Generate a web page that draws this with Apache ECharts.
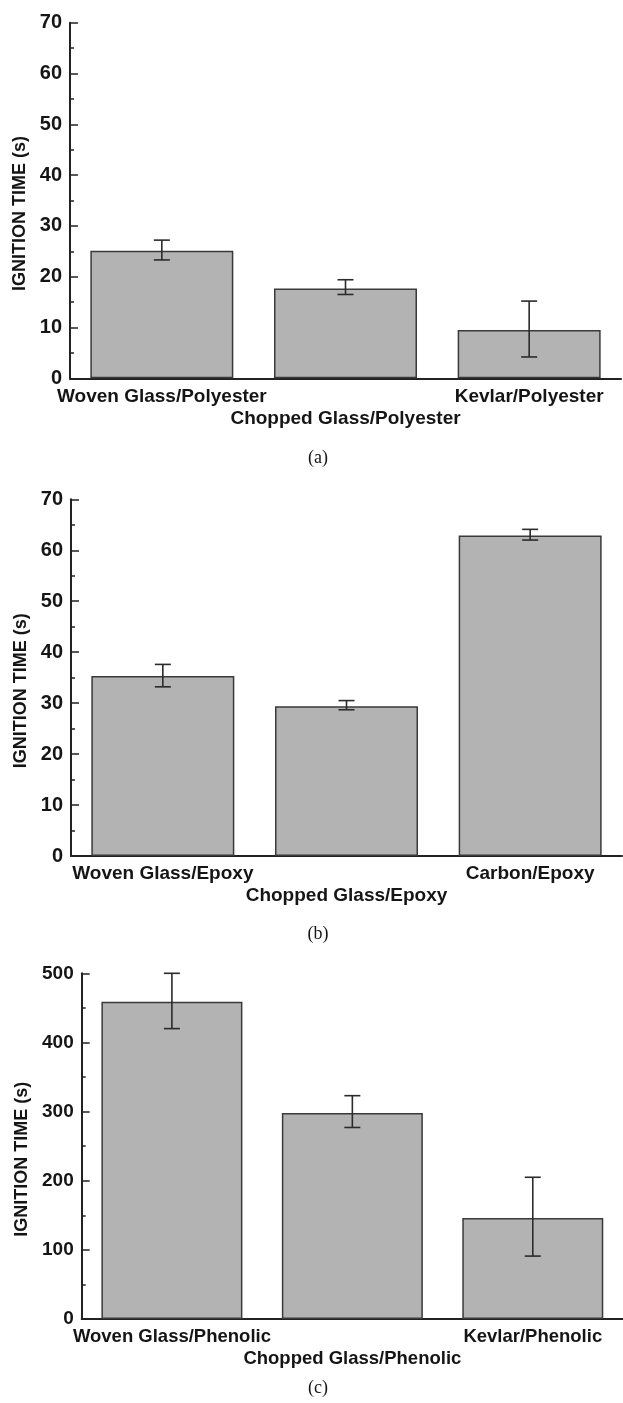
<!DOCTYPE html>
<html>
<head>
<meta charset="utf-8">
<title>Ignition time of composites</title>
<script src="https://cdn.jsdelivr.net/npm/echarts@6/dist/echarts.min.js"></script>
<style>
  html, body { margin: 0; padding: 0; background: #fff; }
  #chart { width: 623px; height: 1403px; }
</style>
</head>
<body>
<div id="chart"></div>
<script>
// Panel (a): polyester matrix composites
const catsA = ['Woven Glass/Polyester', 'Chopped Glass/Polyester', 'Kevlar/Polyester'];
const timeA = [25.1, 17.7, 9.5];
const lowA = [23.3, 16.5, 4.2];
const highA = [27.2, 19.4, 15.2];

// Panel (b): epoxy matrix composites
const catsB = ['Woven Glass/Epoxy', 'Chopped Glass/Epoxy', 'Carbon/Epoxy'];
const timeB = [35.3, 29.4, 62.9];
const lowB = [33.2, 28.7, 62.0];
const highB = [37.6, 30.5, 64.1];

// Panel (c): phenolic matrix composites
const catsC = ['Woven Glass/Phenolic', 'Chopped Glass/Phenolic', 'Kevlar/Phenolic'];
const timeC = [459, 298, 146];
const lowC = [420, 277, 91];
const highC = [500, 323, 205];

const yMaxA = 70, yStepA = 10;
const yMaxB = 70, yStepB = 10;
const yMaxC = 500, yStepC = 100;

const axisName = 'IGNITION TIME (s)';
const captions = ['(a)', '(b)', '(c)'];

const SANS = '"Liberation Sans", Arial, Helvetica, sans-serif';
const SERIF = '"Liberation Serif", "Times New Roman", serif';
const INK = '#151515';

const panels = [
  { cats: catsA, time: timeA, low: lowA, high: highA, max: yMaxA, step: yStepA,
    grid: { left: 70, top: 22.7, width: 551, height: 355.6 }, barWidth: 143,
    tickFont: 20, catFont: 19, nameGap: 40, capY: 458 },
  { cats: catsB, time: timeB, low: lowB, high: highB, max: yMaxB, step: yStepB,
    grid: { left: 71, top: 499.3, width: 551, height: 356.7 }, barWidth: 143,
    tickFont: 20, catFont: 19, nameGap: 41, capY: 934 },
  { cats: catsC, time: timeC, low: lowC, high: highC, max: yMaxC, step: yStepC,
    grid: { left: 81.7, top: 973.3, width: 541.3, height: 345.7 }, barWidth: 141,
    tickFont: 19, catFont: 18.5, nameGap: 50, capY: 1388 }
];

// Whisker with caps from the low to the high value of each category
function errorBarItem(params, api) {
  const x = api.value(0);
  const lo = api.coord([x, api.value(1)]);
  const hi = api.coord([x, api.value(2)]);
  const half = 8;
  const style = { stroke: '#2b2b2b', lineWidth: 1.6 };
  return {
    type: 'group',
    children: [
      { type: 'line', shape: { x1: hi[0], y1: hi[1], x2: lo[0], y2: lo[1] }, style },
      { type: 'line', shape: { x1: hi[0] - half, y1: hi[1], x2: hi[0] + half, y2: hi[1] }, style },
      { type: 'line', shape: { x1: lo[0] - half, y1: lo[1], x2: lo[0] + half, y2: lo[1] }, style }
    ]
  };
}

const option = {
  animation: false,
  backgroundColor: '#fff',
  grid: [], xAxis: [], yAxis: [], series: [],
  graphic: []
};

panels.forEach((p, k) => {
  option.grid.push(Object.assign({ containLabel: false }, p.grid));
  option.xAxis.push({
    type: 'category',
    gridIndex: k,
    data: p.cats,
    axisTick: { show: false },
    axisLine: { lineStyle: { color: '#222', width: 2 } },
    axisLabel: {
      interval: 0,
      hideOverlap: false,
      margin: 7,
      lineHeight: 22,
      color: INK,
      fontFamily: SANS,
      fontWeight: 'bold',
      fontSize: p.catFont,
      // the middle category sits on a second row
      formatter: (v, i) => (i === 1 ? '\n' + v : v)
    }
  });
  option.yAxis.push({
    type: 'value',
    gridIndex: k,
    min: 0,
    max: p.max,
    interval: p.step,
    name: axisName,
    nameLocation: 'middle',
    nameGap: p.nameGap,
    nameTextStyle: {
      color: INK, fontFamily: SANS, fontWeight: 'bold', fontSize: 18,
      padding: [0, 26, 0, 0]
    },
    axisLine: { show: true, lineStyle: { color: '#222', width: 2 } },
    axisTick: { show: true, inside: true, length: 8, lineStyle: { color: '#222', width: 1.5 } },
    minorTick: { show: true, splitNumber: 2, length: 4, lineStyle: { color: '#222', width: 1.5 } },
    splitLine: { show: false },
    axisLabel: {
      margin: 8,
      color: INK,
      fontFamily: SANS,
      fontWeight: 'bold',
      fontSize: p.tickFont
    }
  });
  option.series.push({
    type: 'bar',
    xAxisIndex: k,
    yAxisIndex: k,
    data: p.time,
    barWidth: p.barWidth,
    itemStyle: { color: '#b3b3b3', borderColor: '#3a3a3a', borderWidth: 1.5 },
    z: 2
  });
  option.series.push({
    type: 'custom',
    xAxisIndex: k,
    yAxisIndex: k,
    renderItem: errorBarItem,
    encode: { x: 0, y: [1, 2] },
    data: p.cats.map((c, i) => [i, p.low[i], p.high[i]]),
    z: 5
  });
  option.graphic.push({
    type: 'text',
    x: 318,
    y: p.capY,
    style: {
      text: captions[k],
      fill: INK,
      font: '18px ' + SERIF,
      textAlign: 'center',
      textVerticalAlign: 'middle'
    }
  });
});

const chart = echarts.init(document.getElementById('chart'), null, { renderer: 'canvas' });
chart.setOption(option);
</script>
</body>
</html>
